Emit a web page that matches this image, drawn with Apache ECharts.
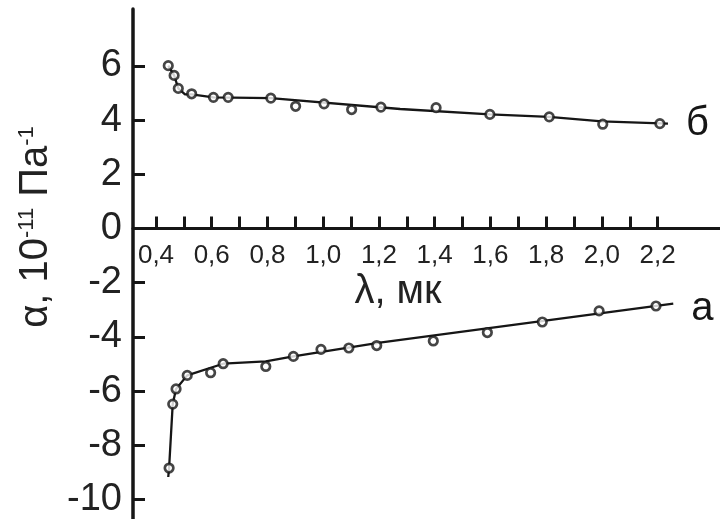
<!DOCTYPE html>
<html>
<head>
<meta charset="utf-8">
<script src="https://cdn.jsdelivr.net/npm/echarts@6/dist/echarts.min.js"></script>
<style>
  html, body { margin: 0; padding: 0; background: #fff; }
  #chart { width: 720px; height: 519px; }
</style>
</head>
<body>
<div id="chart"></div>
<script>
// Wavelength λ (мк) and coefficient α (10^-11 Па^-1): measured points
const lambdaB = [0.444, 0.465, 0.480, 0.528, 0.606, 0.659, 0.812, 0.901, 1.003, 1.102, 1.207, 1.405, 1.598, 1.811, 2.003, 2.208];
const alphaB  = [6.01, 5.65, 5.17, 4.97, 4.84, 4.84, 4.81, 4.51, 4.60, 4.39, 4.48, 4.46, 4.21, 4.12, 3.85, 3.87];

const lambdaA = [0.447, 0.460, 0.472, 0.512, 0.596, 0.641, 0.794, 0.893, 0.992, 1.092, 1.192, 1.395, 1.589, 1.786, 1.990, 2.194];
const alphaA  = [-8.84, -6.48, -5.92, -5.42, -5.32, -4.99, -5.09, -4.72, -4.46, -4.41, -4.32, -4.15, -3.84, -3.45, -3.04, -2.86];

// Hand-drawn trend curves through the points
const curveLambdaB = [0.444, 0.465, 0.480, 0.504, 0.528, 0.606, 0.812, 1.276, 1.598, 1.810, 2.000, 2.237];
const curveAlphaB  = [6.01, 5.65, 5.17, 4.95, 4.95, 4.84, 4.81, 4.41, 4.21, 4.12, 3.95, 3.87];

const curveLambdaA = [0.444, 0.447, 0.460, 0.472, 0.512, 0.641, 0.794, 0.893, 1.203, 2.256];
const curveAlphaA  = [-9.17, -8.84, -6.48, -5.92, -5.42, -4.99, -4.90, -4.72, -4.21, -2.77];

// Axis ticks and labels
const xTickValues  = [0.4, 0.5, 0.6, 0.7, 0.8, 0.9, 1.0, 1.1, 1.2, 1.3, 1.4, 1.5, 1.6, 1.7, 1.8, 1.9, 2.0, 2.1, 2.2];
const xLabelValues = [0.4, 0.6, 0.8, 1.0, 1.2, 1.4, 1.6, 1.8, 2.0, 2.2];
const yTickValues  = [6, 4, 2, 0, -2, -4, -6, -8, -10];

const seriesNameB = 'б';
const seriesNameA = 'а';

const ink = '#161616';
const fontFamily = '"Liberation Sans", Arial, Helvetica, sans-serif';

const yMin = -10.72;
const yMax = 8.1;
const gridTop = 9;
const gridBottom = 0;
const chartHeight = 519;

const pairs = (xs, ys) => xs.map((x, i) => [x, ys[i]]);

// Shift the λ axis up from the grid bottom so it runs along α = 0
const plotHeight = chartHeight - gridTop - gridBottom;
const zeroFromBottom = plotHeight * (0 - yMin) / (yMax - yMin);

const chart = echarts.init(document.getElementById('chart'), null, { renderer: 'canvas' });

const curveStyle = (name, offsetY) => ({
  type: 'line',
  showSymbol: false,
  symbol: 'none',
  smooth: false,
  lineStyle: { color: ink, width: 2.3 },
  z: 2,
  animation: false,
  endLabel: {
    show: true,
    formatter: name,
    color: ink,
    fontFamily: fontFamily,
    fontSize: 40,
    distance: 18,
    offset: [0, offsetY]
  }
});

const pointStyle = {
  type: 'scatter',
  symbol: 'circle',
  symbolSize: 8.5,
  itemStyle: { color: '#fff', borderColor: ink, borderWidth: 2.7 },
  z: 5,
  animation: false
};

chart.setOption({
  animation: false,
  backgroundColor: '#fff',
  grid: { left: 133, right: 0, top: gridTop, bottom: gridBottom, containLabel: false },
  xAxis: {
    type: 'value',
    min: 0.3175,
    max: 2.4237,
    position: 'bottom',
    offset: -zeroFromBottom,
    axisLine: { show: true, onZero: false, lineStyle: { color: ink, width: 3 } },
    axisTick: { show: true, inside: true, length: 12, customValues: xTickValues, lineStyle: { color: ink, width: 3 } },
    axisLabel: {
      show: true,
      customValues: xLabelValues,
      margin: 14,
      color: '#222',
      fontFamily: fontFamily,
      fontSize: 26,
      formatter: v => v.toFixed(1).replace('.', ',')
    },
    splitLine: { show: false }
  },
  yAxis: {
    type: 'value',
    min: yMin,
    max: yMax,
    axisLine: { show: true, lineStyle: { color: ink, width: 3.5 } },
    axisTick: { show: true, inside: true, length: 12, customValues: yTickValues, lineStyle: { color: ink, width: 3 } },
    axisLabel: {
      show: true,
      customValues: yTickValues,
      margin: 11,
      color: '#222',
      fontFamily: fontFamily,
      fontSize: 38,
      formatter: v => String(v)
    },
    splitLine: { show: false }
  },
  graphic: [
    {
      type: 'text',
      x: 36,
      y: 227,
      rotation: Math.PI / 2,
      style: {
        text: '{m|α, 10}{s|-11}{m| Па}{s|-1}',
        align: 'center',
        verticalAlign: 'middle',
        fill: '#222',
        rich: {
          m: { fontSize: 40, fontFamily: fontFamily, fill: '#222' },
          s: { fontSize: 22, fontFamily: fontFamily, fill: '#222', verticalAlign: 'top' }
        }
      }
    },
    {
      type: 'text',
      x: 398,
      y: 292,
      style: {
        text: 'λ, мк',
        align: 'center',
        verticalAlign: 'middle',
        fill: '#222',
        font: '40px ' + fontFamily
      }
    }
  ],
  series: [
    Object.assign({ name: seriesNameB, data: pairs(curveLambdaB, curveAlphaB) }, curveStyle(seriesNameB, 0)),
    Object.assign({ name: seriesNameA, data: pairs(curveLambdaA, curveAlphaA) }, curveStyle(seriesNameA, 5)),
    Object.assign({ name: seriesNameB + ' точки', data: pairs(lambdaB, alphaB) }, pointStyle),
    Object.assign({ name: seriesNameA + ' точки', data: pairs(lambdaA, alphaA) }, pointStyle)
  ]
});
</script>
</body>
</html>
